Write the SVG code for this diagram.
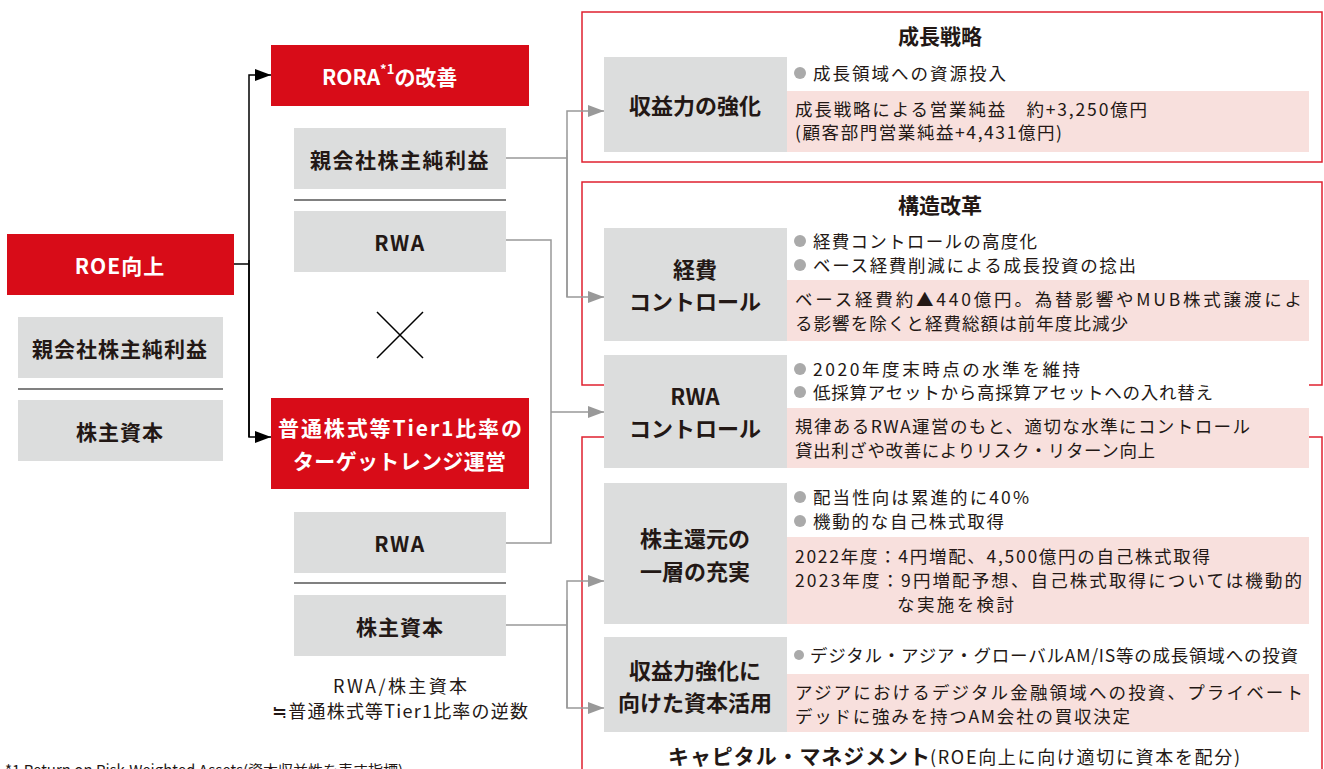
<svg xmlns="http://www.w3.org/2000/svg" width="1324" height="769" viewBox="0 0 1324 769">
<defs>
<marker id="ab" markerWidth="16" markerHeight="12" refX="16" refY="6" orient="auto" markerUnits="userSpaceOnUse"><path d="M0,0 L16,6 L0,12 Z" fill="#000"/></marker>
<marker id="ag" markerWidth="16" markerHeight="12" refX="16" refY="6" orient="auto" markerUnits="userSpaceOnUse"><path d="M0,0 L16,6 L0,12 Z" fill="#999"/></marker>
</defs>
<style>
text{font-family:"Noto Sans CJK JP","Noto Sans",sans-serif;fill:#231815}
.red{fill:#D80C18}
.gray{fill:#DCDDDD}
.pink{fill:#F8E0DD}
.wt{fill:#fff;font-weight:bold;font-size:21px;dominant-baseline:central}
.bt{font-weight:bold;font-size:21px;text-anchor:middle;dominant-baseline:central}
.gt{font-weight:bold;font-size:22px;text-anchor:middle;dominant-baseline:central}
.body{font-size:17.5px;dominant-baseline:central}
.ttl{font-weight:bold;font-size:21px;text-anchor:middle;dominant-baseline:central}
.frame{fill:none;stroke:#E0202F;stroke-width:1.5}
.div{stroke:#808080;stroke-width:2}
.bl{fill:none;stroke:#000;stroke-width:1.5}
.gl{fill:none;stroke:#999;stroke-width:1.5}
.dot{fill:#AAAAAA}
</style>
<rect width="1324" height="769" fill="#fff"/>

<!-- frames -->
<g id="frames">
<rect class="frame" x="582" y="12" width="740" height="150"/>
<rect class="frame" x="582" y="182" width="740" height="203"/>
<rect class="frame" x="582" y="437" width="740" height="350"/>
</g>

<!-- connectors -->
<g id="connectors">
<path class="bl" d="M234,264 H249"/>
<path class="bl" d="M249,437 V75 H271" marker-end="url(#ab)"/>
<path class="bl" d="M249,260 V437 H271" marker-end="url(#ab)"/>
<path class="gl" d="M506,158 H567"/>
<path class="gl" d="M567,297 V111 H604" marker-end="url(#ag)"/>
<path class="gl" d="M567,150 V297 H604" marker-end="url(#ag)"/>
<path class="gl" d="M506,240 H551 V543 H506"/>
<path class="gl" d="M551,412 H604" marker-end="url(#ag)"/>
<path class="gl" d="M506,625 H567"/>
<path class="gl" d="M567,708 V581 H604" marker-end="url(#ag)"/>
<path class="gl" d="M567,600 V708 H604" marker-end="url(#ag)"/>
</g>

<!-- left column -->
<g id="roe">
<rect class="red" x="7" y="234" width="227" height="61"/>
<text class="wt" x="120" y="265" font-size="24" text-anchor="middle" letter-spacing="1">ROE向上</text>
</g>
<g id="left-fraction">
<rect class="gray" x="18" y="317" width="205" height="61"/>
<text class="bt" x="120" y="348" letter-spacing="1">親会社株主純利益</text>
<line class="div" x1="18" y1="389" x2="223" y2="389"/>
<rect class="gray" x="18" y="400" width="205" height="61"/>
<text class="bt" x="120" y="431" letter-spacing="1">株主資本</text>
</g>

<!-- middle column -->
<g id="rora">
<rect class="red" x="271" y="45" width="258" height="61"/>
<text class="wt" x="322" y="76" font-size="22">RORA<tspan font-size="13" dy="-8">*1</tspan><tspan dy="8">の改善</tspan></text>
</g>
<g id="rora-fraction">
<rect class="gray" x="294" y="128" width="212" height="61"/>
<text class="bt" x="400" y="159" letter-spacing="1.5">親会社株主純利益</text>
<line class="div" x1="294" y1="200" x2="506" y2="200"/>
<rect class="gray" x="294" y="211" width="212" height="61"/>
<text class="bt" x="400" y="242" font-size="23" letter-spacing="1.5">RWA</text>
</g>
<g id="times">
<path d="M377,312 L423,358 M423,312 L377,358" stroke="#000" stroke-width="1.5" fill="none"/>
</g>
<g id="tier1">
<rect class="red" x="271" y="398" width="258" height="91"/>
<text class="wt" x="278" y="427" textLength="244">普通株式等Tier1比率の</text>
<text class="wt" x="293" y="460" textLength="213">ターゲットレンジ運営</text>
</g>
<g id="tier1-fraction">
<rect class="gray" x="294" y="512" width="212" height="61"/>
<text class="bt" x="400" y="543" font-size="23" letter-spacing="1.5">RWA</text>
<line class="div" x1="294" y1="583" x2="506" y2="583"/>
<rect class="gray" x="294" y="595" width="212" height="61"/>
<text class="bt" x="400" y="626" letter-spacing="1">株主資本</text>
</g>
<g id="tier1-note">
<text x="333" y="685" font-size="18" dominant-baseline="central" textLength="134">RWA/株主資本</text>
<text x="272" y="710" font-size="18" dominant-baseline="central" textLength="256">≒普通株式等Tier1比率の逆数</text>
</g>

<!-- right: growth strategy -->
<g id="growth">
<text class="ttl" x="940" y="35">成長戦略</text>
</g>
<g id="earnings">
<rect class="gray" x="604" y="57" width="183" height="95"/>
<text class="gt" x="695" y="104">収益力の強化</text>
<circle class="dot" cx="800" cy="73" r="6"/>
<text class="body" x="813" y="72" textLength="193">成長領域への資源投入</text>
<rect class="pink" x="787" y="91" width="522" height="61"/>
<text class="body" x="795" y="108" textLength="352">成長戦略による営業純益　約+3,250億円</text>
<text class="body" x="795" y="131" textLength="267">(顧客部門営業純益+4,431億円)</text>
</g>

<!-- structural reform -->
<g id="reform">
<text class="ttl" x="940" y="204">構造改革</text>
</g>
<g id="expense">
<rect class="gray" x="604" y="228" width="183" height="113"/>
<text class="gt" x="695" y="268">経費</text>
<text class="gt" x="695" y="300">コントロール</text>
<circle class="dot" cx="800" cy="241" r="6"/>
<text class="body" x="813" y="240" textLength="224">経費コントロールの高度化</text>
<circle class="dot" cx="800" cy="265" r="6"/>
<text class="body" x="813" y="264" textLength="323">ベース経費削減による成長投資の捻出</text>
<rect class="pink" x="787" y="280" width="522" height="61"/>
<text class="body" x="795" y="298" textLength="507">ベース経費約▲440億円。為替影響やMUB株式譲渡によ</text>
<text class="body" x="795" y="322" textLength="333">る影響を除くと経費総額は前年度比減少</text>
</g>

<g id="rwa-control">
<rect fill="#fff" x="604" y="355" width="705" height="113"/>
<rect class="gray" x="604" y="355" width="183" height="113"/>
<text class="gt" x="695" y="395">RWA</text>
<text class="gt" x="695" y="427">コントロール</text>
<circle class="dot" cx="800" cy="369" r="6"/>
<text class="body" x="813" y="368" textLength="267">2020年度末時点の水準を維持</text>
<circle class="dot" cx="800" cy="392" r="6"/>
<text class="body" x="813" y="391" textLength="400">低採算アセットから高採算アセットへの入れ替え</text>
<rect class="pink" x="787" y="408" width="522" height="60"/>
<text class="body" x="795" y="425" textLength="455">規律あるRWA運営のもと、適切な水準にコントロール</text>
<text class="body" x="795" y="449" textLength="360">貸出利ざや改善によりリスク・リターン向上</text>
</g>

<!-- capital management -->
<g id="return">
<rect class="gray" x="604" y="483" width="183" height="141"/>
<text class="gt" x="695" y="537">株主還元の</text>
<text class="gt" x="695" y="570">一層の充実</text>
<circle class="dot" cx="800" cy="497" r="6"/>
<text class="body" x="813" y="496" textLength="216">配当性向は累進的に40%</text>
<circle class="dot" cx="800" cy="521" r="6"/>
<text class="body" x="813" y="520" textLength="191">機動的な自己株式取得</text>
<rect class="pink" x="787" y="537" width="522" height="87"/>
<text class="body" x="795" y="555" textLength="415">2022年度：4円増配、4,500億円の自己株式取得</text>
<text class="body" x="795" y="579" textLength="507">2023年度：9円増配予想、自己株式取得については機動的</text>
<text class="body" x="897" y="603" textLength="117">な実施を検討</text>
</g>
<g id="capital-use">
<rect class="gray" x="604" y="637" width="183" height="95"/>
<text class="gt" x="695" y="669">収益力強化に</text>
<text class="gt" x="695" y="701">向けた資本活用</text>
<circle class="dot" cx="799" cy="655" r="5"/>
<text class="body" x="810" y="654" textLength="488">デジタル・アジア・グローバルAM/IS等の成長領域への投資</text>
<rect class="pink" x="787" y="674" width="522" height="58"/>
<text class="body" x="795" y="691" textLength="508">アジアにおけるデジタル金融領域への投資、プライベート</text>
<text class="body" x="795" y="715" textLength="335">デッドに強みを持つAM会社の買収決定</text>
</g>
<g id="capital">
<text x="668" y="755" font-size="21" font-weight="bold" dominant-baseline="central" textLength="262">キャピタル・マネジメント</text>
<text x="930" y="756" font-size="18" dominant-baseline="central" textLength="310">(ROE向上に向け適切に資本を配分)</text>
</g>

<g id="footnote">
<text x="5" y="776" font-size="15" fill="#555">*1 Return on Risk-Weighted Assets(資本収益性を表す指標)</text>
</g>
</svg>
